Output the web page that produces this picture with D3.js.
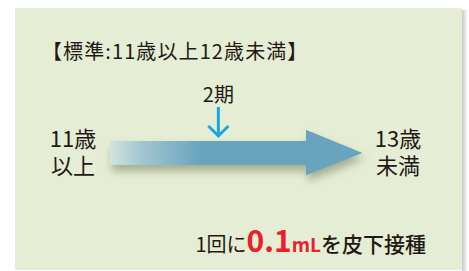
<!DOCTYPE html>
<html>
<head>
<meta charset="utf-8">
<script src="https://cdn.jsdelivr.net/npm/d3@7"></script>
<style>
  body { margin: 0; background: #fff; }
  svg { display: block; }
  text { font-family: "Noto Sans CJK JP", "Noto Sans", sans-serif; fill: #231815; }
</style>
</head>
<body>
<svg id="chart" width="469" height="271"></svg>
<script>
// diagram content
var title = "【標準:11歳以上12歳未満】";
var startLabel = ["11歳", "以上"];
var endLabel = ["13歳", "未満"];
var markers = [{ label: "2期", pos: 0.43 }];
var doseParts = [
  { text: "1回に", size: 20, weight: 400, color: "#231815" },
  { text: "0.1", size: 30, weight: 700, color: "#e8202a" },
  { text: "mL", size: 19, weight: 700, color: "#e8202a" },
  { text: "を皮下接種", size: 21, weight: 500, color: "#231815" }
];

var svg = d3.select("#chart");
var defs = svg.append("defs");

// panel shadow on the right
var sg = defs.append("linearGradient").attr("id", "edge");
sg.append("stop").attr("offset", "0%").attr("stop-color", "#c8c8c8");
sg.append("stop").attr("offset", "100%").attr("stop-color", "#fff");
svg.append("rect").attr("x", 462).attr("y", 10).attr("width", 6).attr("height", 261).style("fill", "url(#edge)");

svg.append("rect")
  .attr("x", 15).attr("y", 8)
  .attr("width", 447).attr("height", 262)
  .style("fill", "#e5edd4");

svg.append("text")
  .attr("x", 42).attr("y", 59)
  .style("font-size", "20px")
  .style("letter-spacing", "1.1px")
  .text(title);

// arrow along a 0..1 scale
var x = d3.scaleLinear().domain([0, 1]).range([110, 362]);
var cy = 153;

var grad = defs.append("linearGradient").attr("id", "shaft")
  .attr("gradientUnits", "userSpaceOnUse")
  .attr("x1", x(0)).attr("x2", x(0.36));
grad.append("stop").attr("offset", "0%").attr("stop-color", "#d3e3dd");
grad.append("stop").attr("offset", "35%").attr("stop-color", "#a2c6cf");
grad.append("stop").attr("offset", "100%").attr("stop-color", "#69a4be");

var f = defs.append("filter").attr("id", "shadow")
  .attr("x", "-20%").attr("y", "-50%").attr("width", "140%").attr("height", "200%");
f.append("feDropShadow").attr("dx", 2).attr("dy", 6).attr("stdDeviation", 4)
  .attr("flood-color", "#6e7a55").attr("flood-opacity", 0.55);

var headX = x(0.778);
var arrowPts = [
  [x(0), cy - 12], [headX, cy - 12], [headX, cy - 23], [x(1), cy],
  [headX, cy + 22], [headX, cy + 12], [x(0), cy + 12]
];
svg.append("path")
  .attr("d", d3.line()(arrowPts) + "Z")
  .style("fill", "url(#shaft)")
  .attr("filter", "url(#shadow)");
// solid head over the gradient
svg.append("path")
  .attr("d", d3.line()(arrowPts.slice(1, 6)) + "Z")
  .style("fill", "#69a4be");

// marker arrows
var m = svg.selectAll("g.marker").data(markers).enter().append("g").attr("class", "marker");
m.append("text")
  .attr("x", function(d) { return x(d.pos); }).attr("y", 102)
  .attr("text-anchor", "middle")
  .style("font-size", "20px")
  .text(function(d) { return d.label; });
m.append("path")
  .attr("d", function(d) {
    var px = x(d.pos);
    return "M" + px + ",107V136M" + (px - 10) + ",126L" + px + ",136L" + (px + 10) + ",126";
  })
  .style("fill", "none").style("stroke", "#18a7e0").style("stroke-width", 3);

// age labels, two lines in one text
function ageLabel(lines, cx) {
  svg.append("text")
    .attr("x", cx).attr("y", 147)
    .attr("text-anchor", "middle")
    .style("font-size", "22px")
    .selectAll("tspan").data(lines).enter().append("tspan")
    .attr("x", cx)
    .attr("dy", function(d, i) { return i ? 27 : 0; })
    .text(function(d) { return d; });
}
ageLabel(startLabel, 73);
ageLabel(endLabel, 398);

// dose line
var dose = svg.append("text").attr("x", 426).attr("y", 252).attr("text-anchor", "end");
dose.selectAll("tspan").data(doseParts).enter().append("tspan")
  .style("font-size", function(d) { return d.size + "px"; })
  .style("font-weight", function(d) { return d.weight; })
  .style("fill", function(d) { return d.color; })
  .text(function(d) { return d.text; });
</script>
</body>
</html>
